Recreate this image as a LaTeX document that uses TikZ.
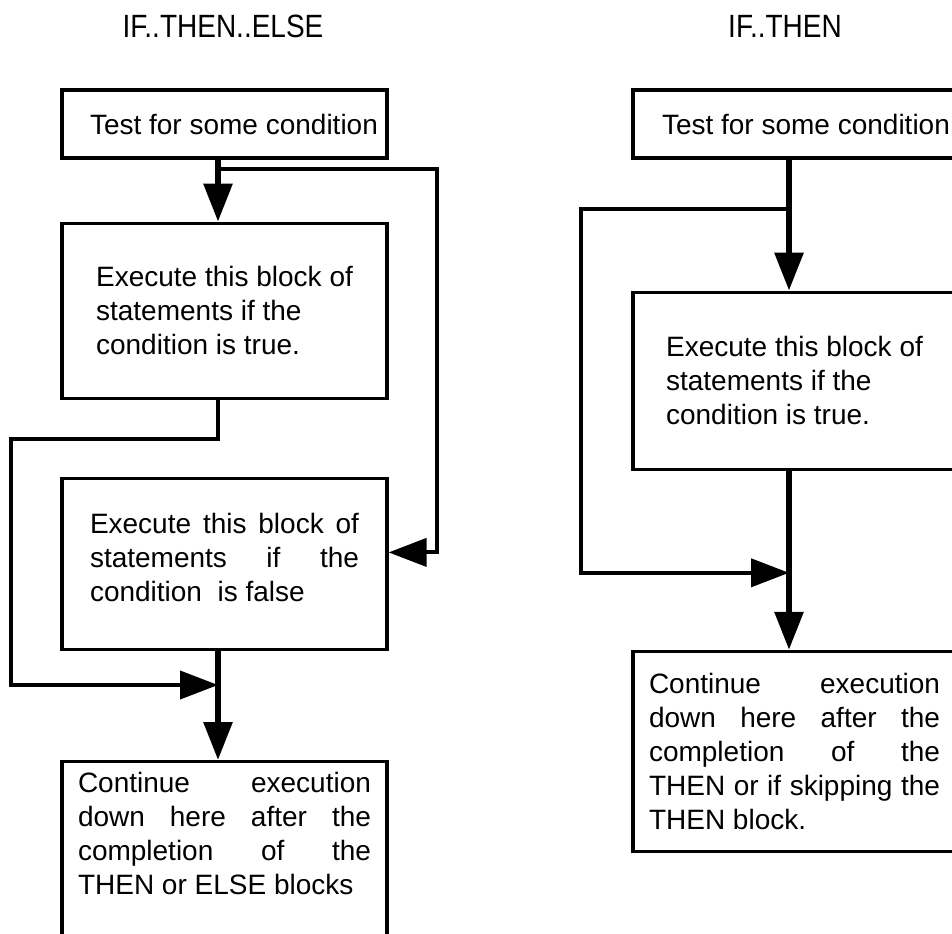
\documentclass[tikz,border=0pt]{standalone}
\usepackage{fontspec}
\setmainfont{Liberation Sans}
\usetikzlibrary{arrows.meta,positioning}

\begin{document}
\begin{tikzpicture}[x=0.5pt, y=-0.5pt,
    blk/.style={draw, rectangle, line width=1.6pt, align=left, inner sep=0pt, font=\fontsize{14}{17}\selectfont},
    lblk/.style={blk, minimum width=162.5pt},
    rblk/.style={blk, minimum width=161.5pt},
    ttl/.style={font=\fontsize{14}{17}\selectfont},
    arr/.style={-{Triangle[length=19pt, width=14pt]}, line width=3pt},
    back/.style={-{Triangle[length=19pt, width=14pt]}, line width=2pt}]

    \path[use as bounding box, clip] (0,0) rectangle (952,933);

    % IF..THEN..ELSE
    \node[ttl] (lt) at (223,26) {\scalebox{1}[1.15]{IF..THEN..ELSE}};
    \node[lblk, minimum height=34pt] (ltest) at (224.5,124) {\makebox[134.5pt][l]{Test for some condition}};
    \node[lblk, minimum height=87.5pt, below=31pt of ltest] (lthen) {Execute this block of\\statements if the\\condition is true.};
    \node[lblk, minimum height=85.5pt, text depth=7pt, below=38.5pt of lthen] (lelse) {\makebox[134.5pt][s]{Execute this block of}\\\makebox[134.5pt][s]{statements if the}\\\makebox[134.5pt][l]{condition\ \ is false}};
    \node[lblk, minimum height=91.5pt, text depth=20pt, below=54.5pt of lelse] (lcont) {\makebox[146.5pt][s]{Continue execution}\\\makebox[146.5pt][s]{down here after the}\\\makebox[146.5pt][s]{completion of the}\\\makebox[146.5pt][l]{THEN or ELSE blocks}};

    \draw[arr] ([xshift=-3.25pt]ltest.south) -- ([xshift=-3.25pt]lthen.north);
    \draw[back] ([xshift=-3.25pt,yshift=-4.5pt]ltest.south) -| ([xshift=24pt,yshift=5.75pt]lelse.east) -- ([yshift=5.75pt]lelse.east);
    \draw[back] ([xshift=-3.25pt]lthen.south) -- ++(0,-19.5pt) -| ([xshift=-24.5pt,yshift=-17pt]lelse.south west) -- ([xshift=-3.25pt,yshift=-17pt]lelse.south);
    \draw[arr] ([xshift=-3.25pt]lelse.south) -- ([xshift=-3.25pt]lcont.north);

    % IF..THEN
    \node[ttl] (rt) at (785,26) {\scalebox{1}[1.15]{IF..THEN}};
    \node[rblk, minimum height=34pt] (rtest) at (794.5,124) {\makebox[132.5pt][l]{Test for some condition}};
    \node[rblk, minimum height=88.5pt, below=65.5pt of rtest] (rthen) {Execute this block of\\statements if the\\condition is true.};
    \node[rblk, minimum height=100pt, below=89.5pt of rthen] (rcont) {\makebox[145.5pt][s]{Continue execution}\\\makebox[145.5pt][s]{down here after the}\\\makebox[145.5pt][s]{completion of the}\\\makebox[145.5pt][s]{THEN or if skipping the}\\\makebox[145.5pt][l]{THEN block.}};

    \draw[arr] ([xshift=-2.75pt]rtest.south) -- ([xshift=-2.75pt]rthen.north);
    \draw[back] ([xshift=-2.75pt,yshift=-24.5pt]rtest.south) -| ([xshift=-25pt,yshift=-51pt]rthen.south west) -- ([xshift=-2.75pt,yshift=-51pt]rthen.south);
    \draw[arr] ([xshift=-2.75pt]rthen.south) -- ([xshift=-2.75pt]rcont.north);
\end{tikzpicture}
\end{document}
